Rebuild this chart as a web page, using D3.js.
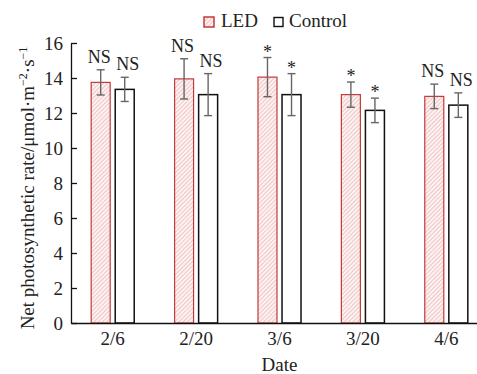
<!DOCTYPE html>
<html>
<head>
  <meta charset="utf-8">
  <script src="https://cdn.jsdelivr.net/npm/d3@7"></script>
  <style type="text/css">
    body {
      margin: 0;
      background: #fff;
    }
    svg, svg text {
      font-family: "Liberation Serif", "Times New Roman", serif;
    }
    .axis text {
      font-size: 19px;
      fill: #222;
    }
  </style>
</head>
<body>
  <script type="text/javascript">

  // data
  const dates = ['2/6', '2/20', '3/6', '3/20', '4/6'];
  const series = ['LED', 'Control'];
  const ledMean = [13.75, 13.95, 14.05, 13.05, 12.95];
  const ledErr = [0.72, 1.15, 1.12, 0.72, 0.70];
  const ctrlMean = [13.35, 13.05, 13.05, 12.15, 12.45];
  const ctrlErr = [0.69, 1.2, 1.2, 0.7, 0.7];
  const ledSig = ['NS', 'NS', '*', '*', 'NS'];
  const ctrlSig = ['NS', 'NS', '*', '*', 'NS'];
  const yTicks = [0, 2, 4, 6, 8, 10, 12, 14, 16];

  const W = 477, H = 374;
  const margin = {top: 43, bottom: 51, left: 71, right: -11};
  const width = W - margin.left - margin.right;
  const height = H - margin.top - margin.bottom;

  const svg = d3.select('body').append('svg')
    .attr('width', W)
    .attr('height', H);

  const defs = svg.append('defs');
  const pat = defs.append('pattern')
    .attr('id', 'hatch')
    .attr('patternUnits', 'userSpaceOnUse')
    .attr('width', 3).attr('height', 3)
    .attr('patternTransform', 'rotate(45)');
  pat.append('rect').attr('width', 3).attr('height', 3).attr('fill', '#fdf1f1');
  pat.append('line')
    .attr('x1', 0).attr('y1', 0).attr('x2', 0).attr('y2', 3)
    .attr('stroke', '#e29b9b').attr('stroke-width', 1);

  const g = svg.append('g')
    .attr('transform', `translate(${margin.left},${margin.top})`);

  // scales
  const x0 = d3.scaleBand().domain(dates).range([0, width])
    .paddingInner(0.484).paddingOuter(0.242);
  const x1 = d3.scaleBand().domain(series).range([0, x0.bandwidth()])
    .paddingInner(0.21);
  const y = d3.scaleLinear().domain([0, 16]).range([height, 0]);

  // bars
  const rows = dates.map((d, i) => [
    {date: d, key: 'LED', v: ledMean[i], e: ledErr[i], sig: ledSig[i]},
    {date: d, key: 'Control', v: ctrlMean[i], e: ctrlErr[i], sig: ctrlSig[i]}
  ]).flat();

  const bx = d => x0(d.date) + x1(d.key);

  g.selectAll('rect.bar').data(rows).enter().append('rect')
    .attr('class', 'bar')
    .attr('x', bx)
    .attr('y', d => y(d.v))
    .attr('width', x1.bandwidth())
    .attr('height', d => y(0) - y(d.v))
    .attr('fill', d => d.key === 'LED' ? 'url(#hatch)' : '#fff')
    .attr('stroke', d => d.key === 'LED' ? '#c33a3a' : '#111')
    .attr('stroke-width', d => d.key === 'LED' ? 1.2 : 1.5);

  // axes
  const axisY = d3.axisLeft(y).tickValues(yTicks).tickSizeInner(-6).tickSizeOuter(0).tickPadding(8);
  g.append('g').attr('class', 'axis').call(axisY)
    .call(s => s.select('.domain').attr('stroke', '#111').attr('stroke-width', 1.3))
    .call(s => s.selectAll('.tick line').attr('stroke', '#111').attr('stroke-width', 1.3));

  const axisX = d3.axisBottom(x0).tickSize(0).tickPadding(9);
  g.append('g').attr('class', 'axis')
    .attr('transform', `translate(0,${height})`)
    .call(axisX)
    .call(s => s.select('.domain').attr('stroke', '#111').attr('stroke-width', 1.3));

  // error bars
  const eb = g.selectAll('g.err').data(rows).enter().append('g')
    .attr('class', 'err')
    .attr('stroke', '#666').attr('stroke-width', 1.4);
  const cx = d => bx(d) + x1.bandwidth() / 2;
  eb.append('line')
    .attr('x1', cx).attr('x2', cx)
    .attr('y1', d => y(d.v + d.e)).attr('y2', d => y(d.v - d.e));
  eb.append('line')
    .attr('x1', d => cx(d) - 4).attr('x2', d => cx(d) + 4)
    .attr('y1', d => y(d.v + d.e)).attr('y2', d => y(d.v + d.e));
  eb.append('line')
    .attr('x1', d => cx(d) - 4).attr('x2', d => cx(d) + 4)
    .attr('y1', d => y(d.v - d.e)).attr('y2', d => y(d.v - d.e));

  // significance labels (NS pairs pushed apart a little so they don't touch)
  g.selectAll('text.sig').data(rows).enter().append('text')
    .attr('class', 'sig')
    .attr('x', cx)
    .attr('dx', d => d.sig === '*' ? 0 : (d.key === 'LED' ? -1.5 : 3))
    .attr('y', d => y(d.v + d.e) - (d.sig === '*' ? 0 : 7))
    .attr('text-anchor', 'middle')
    .attr('font-size', 18)
    .attr('fill', '#222')
    .text(d => d.sig);

  // axis titles
  svg.append('text')
    .attr('x', margin.left + width / 2)
    .attr('y', 371)
    .attr('text-anchor', 'middle')
    .attr('font-size', 19)
    .attr('fill', '#222')
    .text('Date');

  const yt = svg.append('text')
    .attr('transform', `translate(34,${margin.top + height / 2 + 5}) rotate(-90)`)
    .attr('text-anchor', 'middle')
    .attr('font-size', 19)
    .attr('fill', '#222');
  yt.append('tspan').text('Net photosynthetic rate/μmol·m');
  yt.append('tspan').attr('dy', -7).attr('font-size', 12).text('−2');
  yt.append('tspan').attr('dy', 7).text('·s');
  yt.append('tspan').attr('dy', -7).attr('font-size', 12).text('−1');

  // legend
  const leg = svg.append('g').attr('transform', 'translate(204,17)');
  leg.append('rect').attr('width', 10).attr('height', 10)
    .attr('fill', 'url(#hatch)').attr('stroke', '#c33a3a').attr('stroke-width', 1.5);
  leg.append('text').attr('x', 17).attr('y', 10).attr('font-size', 19).attr('fill', '#222').text('LED');
  leg.append('rect').attr('x', 70).attr('width', 9).attr('height', 9).attr('y', 0.5)
    .attr('fill', '#fff').attr('stroke', '#111').attr('stroke-width', 1.4);
  leg.append('text').attr('x', 85).attr('y', 10).attr('font-size', 19).attr('fill', '#222').text('Control');

  </script>
</body>
</html>
